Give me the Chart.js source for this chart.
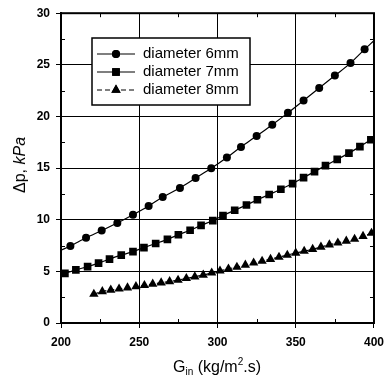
<!DOCTYPE html>
<html>
<head>
<meta charset="utf-8">
<script src="https://cdn.jsdelivr.net/npm/chart.js@4/dist/chart.umd.min.js"></script>
<style>
  body { margin: 0; background: #fff; }
  #wrap { position: relative; width: 391px; height: 385px; }
  #chart { position: absolute; left: 0; top: 0; }
  .title { position: absolute; font-family: "Liberation Sans", Arial, sans-serif; color: #000; white-space: nowrap; }
  #xTitle { left: 173px; top: 356px; font-size: 16px; }
  #xTitle sub { font-size: 10px; vertical-align: -3px; }
  #xTitle sup { font-size: 10px; vertical-align: 7px; }
  #yTitle { left: 20px; top: 165px; font-size: 16px; transform: translate(-50%, -50%) rotate(-90deg); }
</style>
</head>
<body>
<div id="wrap">
  <canvas id="chart" width="391" height="385"></canvas>
  <div class="title" id="xTitle">G<sub>in</sub> (kg/m<sup>2</sup>.s)</div>
  <div class="title" id="yTitle">Δp, <i>kPa</i></div>
</div>
<script>
// diameter 6 mm (circles)
const circleX = [206, 216, 226, 236, 246, 256, 265, 276, 286, 296, 306, 315, 325, 335, 345, 355, 365, 375, 385, 394];
const circleY = [7.46, 8.25, 8.95, 9.68, 10.48, 11.33, 12.2, 13.08, 14.03, 14.98, 16.03, 17.05, 18.1, 19.2, 20.35, 21.55, 22.76, 23.96, 25.17, 26.5];

// diameter 7 mm (squares)
const squareX = [202.5, 209.5, 217, 224, 231, 238.5, 246, 253, 260.5, 268, 275, 282.5, 289.5, 297, 303.5, 311, 318.5, 325.5, 333, 340.5, 348, 355, 362, 369, 376.5, 384, 391, 398];
const squareY = [4.8, 5.14, 5.46, 5.8, 6.19, 6.57, 6.91, 7.3, 7.7, 8.1, 8.55, 8.98, 9.45, 9.92, 10.4, 10.92, 11.43, 11.93, 12.44, 12.95, 13.5, 14.08, 14.66, 15.24, 15.85, 16.45, 17.08, 17.75];

// diameter 8 mm (triangles)
const triX = [221, 226.4, 231.8, 237.1, 242.5, 247.9, 253.3, 258.6, 264, 269.4, 274.8, 280.1, 285.5, 290.9, 296.3, 301.6, 307, 312.4, 317.8, 323.1, 328.5, 333.9, 339.3, 344.6, 350, 355.4, 360.8, 366.1, 371.5, 376.9, 382.3, 387.6, 393, 398.4];
const triY = [2.8, 3.05, 3.2, 3.3, 3.42, 3.54, 3.65, 3.78, 3.9, 4.02, 4.16, 4.32, 4.48, 4.65, 4.85, 5.05, 5.25, 5.42, 5.62, 5.82, 6.0, 6.18, 6.38, 6.58, 6.78, 6.96, 7.14, 7.36, 7.58, 7.76, 7.94, 8.12, 8.4, 8.7];

// fitted curve end values at the plot edges
const fitStart6 = [200, 7.05], fitEnd6 = [400, 27.35];
const fitStart7 = [200, 4.68], fitEnd7 = [400, 17.92];
const fitEnd8 = [400, 8.78];

const seriesNames = ['diameter 6mm', 'diameter 7mm', 'diameter 8mm'];
const xTicks = [200, 250, 300, 350, 400];
const yTicks = [0, 5, 10, 15, 20, 25, 30];

const pts = (xs, ys) => xs.map((x, i) => ({ x, y: ys[i] }));
const withEnds = (start, xs, ys, end) => {
  const p = pts(xs, ys);
  if (start) p.unshift({ x: start[0], y: start[1] });
  if (end) p.push({ x: end[0], y: end[1] });
  return p;
};

const FONT = '"Liberation Sans", Arial, sans-serif';
const STYLES = ['circle', 'rect', 'triangle'];
const RADII = [4, 5.4, 5.4];

const boxPlugin = {
  id: 'box',
  afterDraw(chart) {
    const { ctx, chartArea: a, scales } = chart;
    ctx.save();
    ctx.strokeStyle = '#000';
    // minor ticks inside
    ctx.lineWidth = 1;
    ctx.beginPath();
    for (let v = 225; v < 400; v += 50) {
      const px = Math.round(scales.x.getPixelForValue(v)) + 0.5;
      ctx.moveTo(px, a.bottom); ctx.lineTo(px, a.bottom - 4);
      ctx.moveTo(px, a.top); ctx.lineTo(px, a.top + 4);
    }
    for (let v = 2.5; v < 30; v += 5) {
      const py = Math.round(scales.y.getPixelForValue(v)) + 0.5;
      ctx.moveTo(a.left, py); ctx.lineTo(a.left + 4, py);
      ctx.moveTo(a.right, py); ctx.lineTo(a.right - 4, py);
    }
    ctx.stroke();
    ctx.lineWidth = 2;
    ctx.strokeRect(a.left, a.top, a.right - a.left, a.bottom - a.top);

    // legend
    const lx = 92, ly = 38, lw = 158, lh = 67;
    ctx.fillStyle = '#fff';
    ctx.fillRect(lx, ly, lw, lh);
    ctx.lineWidth = 1.5;
    ctx.strokeRect(lx, ly, lw, lh);
    const dashes = [[], [], [5, 3]];
    ctx.font = '15px ' + FONT;
    ctx.textBaseline = 'middle';
    seriesNames.forEach((name, i) => {
      const y = 54 + i * 18;
      ctx.lineWidth = 1.2;
      ctx.setLineDash(dashes[i]);
      ctx.beginPath();
      ctx.moveTo(97, y); ctx.lineTo(135, y);
      ctx.stroke();
      ctx.setLineDash([]);
      ctx.fillStyle = '#000';
      Chart.helpers.drawPoint(ctx, { pointStyle: STYLES[i], radius: RADII[i], borderWidth: 0 }, 116, y);
      ctx.fill();
      ctx.fillText(name, 143, y);
    });
    ctx.restore();
  }
};

const markerDs = (data, i) => ({
  data, showLine: false, pointStyle: STYLES[i], pointRadius: RADII[i], pointHoverRadius: RADII[i],
  pointBackgroundColor: '#000', pointBorderColor: '#000', pointBorderWidth: 0
});
const lineDs = (data, dash) => ({
  data, showLine: true, pointRadius: 0, borderColor: '#000', borderWidth: 1.2,
  borderDash: dash, tension: 0.3, fill: false
});

new Chart(document.getElementById('chart'), {
  type: 'scatter',
  data: {
    datasets: [
      lineDs(withEnds(fitStart6, circleX, circleY, fitEnd6), []),
      lineDs(withEnds(fitStart7, squareX, squareY, fitEnd7), []),
      lineDs(withEnds(null, triX, triY, fitEnd8), [5, 3]),
      markerDs(pts(circleX, circleY), 0),
      markerDs(pts(squareX, squareY), 1),
      markerDs(pts(triX, triY), 2)
    ]
  },
  plugins: [boxPlugin],
  options: {
    responsive: false,
    animation: false,
    events: [],
    layout: { padding: { top: 8, right: 15, left: 0, bottom: 0 } },
    plugins: { legend: { display: false }, tooltip: { enabled: false } },
    scales: {
      x: {
        type: 'linear', min: 200, max: 400,
        afterBuildTicks: s => { s.ticks = xTicks.map(v => ({ value: v })); },
        afterFit: s => { s.height = 62; },
        grid: { color: '#000', lineWidth: 1, tickLength: 5 },
        border: { color: '#000', width: 2 },
        ticks: { color: '#000', padding: 7, maxRotation: 0, font: { family: FONT, size: 12, weight: 'bold' } }
      },
      y: {
        type: 'linear', min: 0, max: 30,
        afterBuildTicks: s => { s.ticks = yTicks.map(v => ({ value: v })); },
        afterFit: s => { s.width = 61; },
        grid: { color: '#000', lineWidth: 1, tickLength: 5 },
        border: { color: '#000', width: 2 },
        ticks: { color: '#000', padding: 6, font: { family: FONT, size: 12, weight: 'bold' } }
      }
    }
  }
});
</script>
</body>
</html>
